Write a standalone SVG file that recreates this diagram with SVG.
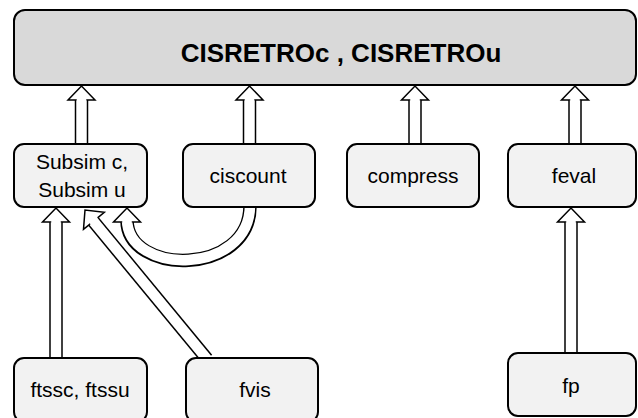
<svg xmlns="http://www.w3.org/2000/svg" xmlns:xlink="http://www.w3.org/1999/xlink" width="638" height="418" viewBox="0 0 638 418">
<style>
  .box { fill: #f2f2f2; stroke: #000; stroke-width: 2; }
  .top { fill: #d9d9d9; stroke: #000; stroke-width: 2; }
  .lbl { font-family: "Liberation Sans", Arial, sans-serif; font-size: 21px; fill: #000; text-anchor: middle; }
  .title { font-family: "Liberation Sans", Arial, sans-serif; font-size: 26px; font-weight: bold; fill: #000; text-anchor: middle; }
  .so { fill: none; stroke: #000; stroke-width: 13.5; }
  .si { fill: none; stroke: #fff; stroke-width: 10.5; }
  .hd { fill: #fff; stroke: #000; stroke-width: 1.5; stroke-linejoin: miter; }
</style>
<defs>
  <polyline id="head" points="-5.5,14.5 -5.5,14 -13.5,14 0,0 13.5,14 5.5,14 5.5,14.5"/>
</defs>

<g id="connectors">
  <!-- to top box -->
  <g id="c-subsim-top">
    <path class="so" d="M81.5,98 V145"/><path class="si" d="M81.5,97 V146"/>
    <use xlink:href="#head" class="hd" transform="translate(81.5,86)"/>
  </g>
  <g id="c-ciscount-top">
    <path class="so" d="M249.5,98 V145"/><path class="si" d="M249.5,97 V146"/>
    <use xlink:href="#head" class="hd" transform="translate(249.5,86)"/>
  </g>
  <g id="c-compress-top">
    <path class="so" d="M415,98 V145"/><path class="si" d="M415,97 V146"/>
    <use xlink:href="#head" class="hd" transform="translate(415,86)"/>
  </g>
  <g id="c-feval-top">
    <path class="so" d="M575,98 V145"/><path class="si" d="M575,97 V146"/>
    <use xlink:href="#head" class="hd" transform="translate(575,86)"/>
  </g>
  <!-- ftssc to subsim -->
  <g id="c-ftssc-subsim">
    <path class="so" d="M56,220 V359"/><path class="si" d="M56,219 V360"/>
    <use xlink:href="#head" class="hd" transform="translate(56,208)"/>
  </g>
  <!-- fvis to subsim (diagonal) -->
  <g id="c-fvis-subsim">
    <path class="so" d="M93.5,221.5 L207,359"/><path class="si" d="M92.8,220.6 L207.8,360"/>
    <use xlink:href="#head" class="hd" transform="translate(85,210) rotate(-39.5)"/>
  </g>
  <!-- ciscount to subsim (curved) -->
  <g id="c-ciscount-subsim">
    <path class="so" d="M250,206 C250,276 127,276 127,220"/><path class="si" d="M250,205 C250,276 127,276 127,219"/>
    <use xlink:href="#head" class="hd" transform="translate(127,208)"/>
  </g>
  <!-- fp to feval -->
  <g id="c-fp-feval">
    <path class="so" d="M571,220 V354"/><path class="si" d="M571,219 V355"/>
    <use xlink:href="#head" class="hd" transform="translate(571,208)"/>
  </g>
</g>

<g id="cisretro">
  <rect class="top" x="14" y="10" width="622" height="75" rx="11"/>
  <text class="title" x="341" y="62">CISRETROc , CISRETROu</text>
</g>
<g id="subsim">
  <rect class="box" x="14" y="144" width="133" height="63" rx="10"/>
  <text class="lbl" x="82" y="169">Subsim c,</text>
  <text class="lbl" x="82" y="197">Subsim u</text>
</g>
<g id="ciscount">
  <rect class="box" x="183" y="144" width="132" height="63" rx="10"/>
  <text class="lbl" x="248" y="183">ciscount</text>
</g>
<g id="compress">
  <rect class="box" x="347" y="144" width="132" height="63" rx="10"/>
  <text class="lbl" x="413" y="183">compress</text>
</g>
<g id="feval">
  <rect class="box" x="508" y="144" width="128" height="63" rx="10"/>
  <text class="lbl" x="574" y="183">feval</text>
</g>
<g id="ftssc">
  <rect class="box" x="14" y="358" width="133" height="64" rx="10"/>
  <text class="lbl" x="80" y="397">ftssc, ftssu</text>
</g>
<g id="fvis">
  <rect class="box" x="186" y="358" width="132" height="64" rx="10"/>
  <text class="lbl" x="255" y="397">fvis</text>
</g>
<g id="fp">
  <rect class="box" x="508" y="353" width="128" height="63" rx="10"/>
  <text class="lbl" x="571" y="393">fp</text>
</g>
</svg>
